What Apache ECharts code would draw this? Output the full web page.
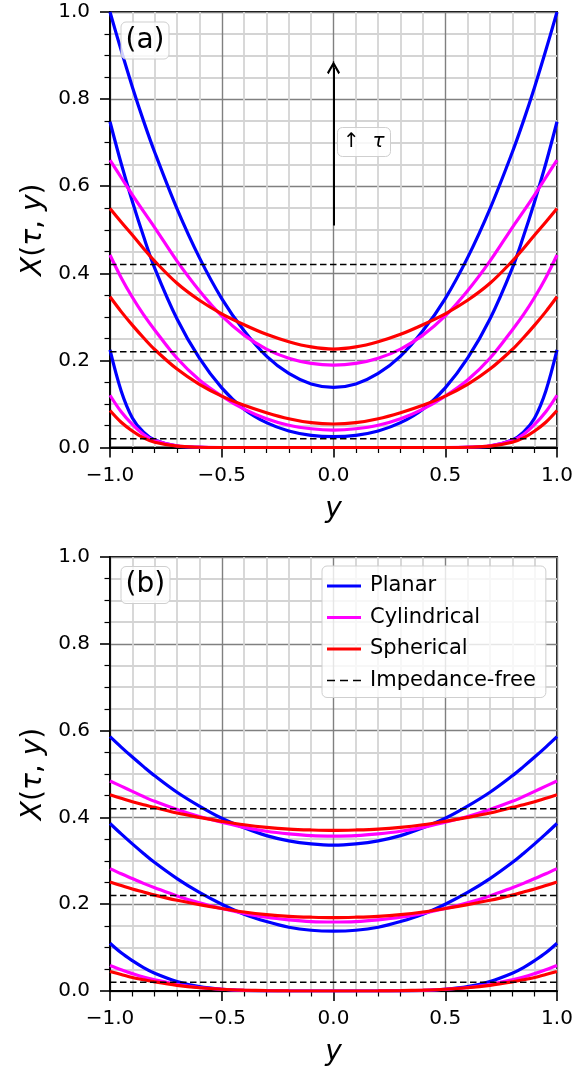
<!DOCTYPE html>
<html><head><meta charset="utf-8">
<script src="https://cdn.jsdelivr.net/npm/echarts/dist/echarts.min.js"></script>
<style>html,body{margin:0;padding:0;background:#fff}#c{width:576px;height:1076px}</style>
</head><body><div id="c"></div>
<script>
// y positions (abscissa) shared by every curve
const xs = [-1,-0.95,-0.9,-0.85,-0.8,-0.7,-0.6,-0.5,-0.4,-0.3,-0.2,-0.1,0,0.1,0.2,0.3,0.4,0.5,0.6,0.7,0.8,0.85,0.9,0.95,1];

// Panel (a): three times, smallest to largest
const aPlanar1 = [0.224,0.13,0.068,0.035,0.017,0.003,0.0004,0,0,0,0,0,0,0,0,0,0,0,0.0004,0.003,0.017,0.035,0.068,0.13,0.224];
const aCyl1    = [0.12,0.082,0.053,0.03,0.016,0.004,0.0008,0,0,0,0,0,0,0,0,0,0,0,0.0008,0.004,0.016,0.03,0.053,0.082,0.12];
const aSph1    = [0.085,0.058,0.038,0.022,0.012,0.003,0.0006,0,0,0,0,0,0,0,0,0,0,0,0.0006,0.003,0.012,0.022,0.038,0.058,0.085];
const aPlanar2 = [0.748,0.652,0.565,0.485,0.412,0.295,0.205,0.137,0.088,0.057,0.038,0.028,0.025,0.028,0.038,0.057,0.088,0.137,0.205,0.295,0.412,0.485,0.565,0.652,0.748];
const aCyl2    = [0.442,0.39,0.345,0.305,0.27,0.205,0.155,0.118,0.088,0.066,0.051,0.043,0.04,0.043,0.051,0.066,0.088,0.118,0.155,0.205,0.27,0.305,0.345,0.39,0.442];
const aSph2    = [0.346,0.312,0.281,0.252,0.225,0.18,0.145,0.118,0.097,0.08,0.066,0.057,0.054,0.057,0.066,0.08,0.097,0.118,0.145,0.18,0.225,0.252,0.281,0.312,0.346];
const aPlanar3 = [1.0,0.912,0.828,0.75,0.678,0.548,0.436,0.342,0.268,0.21,0.17,0.146,0.138,0.146,0.17,0.21,0.268,0.342,0.436,0.548,0.678,0.75,0.828,0.912,1.0];
const aCyl3    = [0.66,0.62,0.58,0.542,0.505,0.428,0.36,0.302,0.258,0.226,0.205,0.193,0.189,0.193,0.205,0.226,0.258,0.302,0.36,0.428,0.505,0.542,0.58,0.62,0.66];
const aSph3    = [0.549,0.518,0.488,0.457,0.428,0.377,0.338,0.307,0.282,0.26,0.243,0.231,0.226,0.231,0.243,0.26,0.282,0.307,0.338,0.377,0.428,0.457,0.488,0.518,0.549];

// Panel (b)
const bPlanar1 = [0.11,0.088,0.07,0.054,0.041,0.022,0.01,0.004,0.0012,0.0003,0,0,0,0,0,0.0003,0.0012,0.004,0.01,0.022,0.041,0.054,0.07,0.088,0.11];
const bCyl1    = [0.059,0.049,0.04,0.032,0.026,0.015,0.008,0.004,0.0015,0.0005,0.0001,0,0,0,0.0001,0.0005,0.0015,0.004,0.008,0.015,0.026,0.032,0.04,0.049,0.059];
const bSph1    = [0.045,0.038,0.031,0.026,0.021,0.013,0.0075,0.004,0.002,0.0008,0.0002,0,0,0,0.0002,0.0008,0.002,0.004,0.0075,0.013,0.021,0.026,0.031,0.038,0.045];
const bPlanar2 = [0.386,0.362,0.339,0.317,0.296,0.259,0.227,0.2,0.177,0.16,0.147,0.14,0.138,0.14,0.147,0.16,0.177,0.2,0.227,0.259,0.296,0.317,0.339,0.362,0.386];
const bCyl2    = [0.282,0.27,0.259,0.248,0.238,0.219,0.203,0.19,0.179,0.17,0.164,0.16,0.159,0.16,0.164,0.17,0.179,0.19,0.203,0.219,0.238,0.248,0.259,0.27,0.282];
const bSph2    = [0.251,0.243,0.235,0.228,0.221,0.209,0.199,0.19,0.182,0.176,0.172,0.17,0.169,0.17,0.172,0.176,0.182,0.19,0.199,0.209,0.221,0.228,0.235,0.243,0.251];
const bPlanar3 = [0.586,0.562,0.539,0.517,0.496,0.458,0.426,0.398,0.376,0.358,0.346,0.339,0.336,0.339,0.346,0.358,0.376,0.398,0.426,0.458,0.496,0.517,0.539,0.562,0.586];
const bCyl3    = [0.484,0.472,0.46,0.448,0.437,0.418,0.402,0.389,0.377,0.368,0.362,0.358,0.357,0.358,0.362,0.368,0.377,0.389,0.402,0.418,0.437,0.448,0.46,0.472,0.484];
const bSph3    = [0.452,0.444,0.436,0.429,0.423,0.41,0.4,0.391,0.383,0.377,0.373,0.371,0.37,0.371,0.373,0.377,0.383,0.391,0.4,0.41,0.423,0.429,0.436,0.444,0.452];

// Impedance-free levels (same in both panels)
const impedanceFree = [0.02, 0.22, 0.42];
const xRange = [-1, 1];

// Arrow in panel (a)
const arrowFrom = [0, 0.51];
const arrowTo = [0, 0.872];

// Tick labels
const xTicks = [-1, -0.5, 0, 0.5, 1];
const xTickLabels = ['\u22121.0', '\u22120.5', '0.0', '0.5', '1.0'];
const yTicks = [0, 0.2, 0.4, 0.6, 0.8, 1.0];
const yTickLabels = ['0.0', '0.2', '0.4', '0.6', '0.8', '1.0'];

const names = ['Planar', 'Cylindrical', 'Spherical', 'Impedance-free'];
const colors = { Planar: '#0000ff', Cylindrical: '#ff00ff', Spherical: '#ff0000' };

function lookup(ticks, labels) {
  return v => { const i = ticks.findIndex(t => Math.abs(t - v) < 1e-9); return i >= 0 ? labels[i] : ''; };
}
const FONT = 'DejaVu Sans';

function xAxisFor(g) {
  return {
    gridIndex: g, type: 'value', min: -1, max: 1, interval: 0.5,
    axisLine: { show: true, onZero: false, lineStyle: { color: '#000', width: 1.8 } },
    axisTick: { show: true, length: 10, lineStyle: { color: '#000', width: 1.6 } },
    minorTick: { show: true, splitNumber: 5, length: 5.5, lineStyle: { color: '#000', width: 1.2 } },
    splitLine: { show: true, lineStyle: { color: '#808080', width: 1.4 } },
    minorSplitLine: { show: true, lineStyle: { color: '#d4d4d4', width: 1.8 } },
    axisLabel: { formatter: lookup(xTicks, xTickLabels), fontSize: 20, color: '#000', fontFamily: FONT, margin: 18 },
    name: 'y', nameLocation: 'middle', nameGap: 48,
    nameTextStyle: { fontSize: 28, fontStyle: 'italic', fontFamily: FONT, color: '#000' }
  };
}
function yAxisFor(g) {
  return {
    gridIndex: g, type: 'value', min: 0, max: 1, interval: 0.2,
    axisLine: { show: true, onZero: false, lineStyle: { color: '#000', width: 1.8 } },
    axisTick: { show: true, length: 10, lineStyle: { color: '#000', width: 1.6 } },
    minorTick: { show: true, splitNumber: 4, length: 5.5, lineStyle: { color: '#000', width: 1.2 } },
    splitLine: { show: true, lineStyle: { color: '#808080', width: 1.4 } },
    minorSplitLine: { show: true, lineStyle: { color: '#d4d4d4', width: 1.8 } },
    axisLabel: { formatter: lookup(yTicks, yTickLabels), fontSize: 20, color: '#000', fontFamily: FONT, margin: 20 },
    name: '{i|X}({i|\u03c4}, {i|y})', nameLocation: 'middle', nameGap: 60, nameRotate: 90,
    nameTextStyle: { fontSize: 28, fontFamily: FONT, color: '#000',
      rich: { i: { fontSize: 28, fontStyle: 'italic', fontFamily: FONT, color: '#000' } } }
  };
}

function curve(name, arr, g) {
  return {
    type: 'line', name: name, xAxisIndex: g, yAxisIndex: g,
    data: xs.map((x, i) => [x, arr[i]]),
    smooth: 0.35, symbol: 'none', showSymbol: false,
    lineStyle: { color: colors[name], width: 3.2 }, itemStyle: { color: colors[name] },
    silent: true, z: 3
  };
}
function dashed(level, g) {
  return {
    type: 'line', name: 'Impedance-free', xAxisIndex: g, yAxisIndex: g,
    data: xRange.map(x => [x, level]), symbol: 'none', showSymbol: false,
    lineStyle: { color: '#000', width: 1.5, type: [6.5, 3.5] }, itemStyle: { color: '#000' },
    silent: true, z: 4
  };
}

const series = [];
[[aPlanar1, aCyl1, aSph1], [aPlanar2, aCyl2, aSph2], [aPlanar3, aCyl3, aSph3]].forEach(s => {
  series.push(curve('Planar', s[0], 0), curve('Cylindrical', s[1], 0), curve('Spherical', s[2], 0));
});
[[bPlanar1, bCyl1, bSph1], [bPlanar2, bCyl2, bSph2], [bPlanar3, bCyl3, bSph3]].forEach(s => {
  series.push(curve('Planar', s[0], 1), curve('Cylindrical', s[1], 1), curve('Spherical', s[2], 1));
});
impedanceFree.forEach(l => series.push(dashed(l, 0)));
impedanceFree.forEach(l => series.push(dashed(l, 1)));

// arrow
series.push({
  type: 'line', xAxisIndex: 0, yAxisIndex: 0, data: [], silent: true, z: 5,
  markLine: {
    silent: true, animation: false,
    symbol: ['none', 'path://M50,0 L100,82 L88,94 L50,30 L12,94 L0,82 Z M45,0 L55,0 L55,55 L45,55 Z'],
    symbolSize: [13, 13],
    lineStyle: { color: '#000', width: 2, type: 'solid' },
    label: { show: false }, emphasis: { disabled: true },
    data: [[{ coord: arrowFrom }, { coord: arrowTo }]]
  }
});

const boxStyle = { backgroundColor: 'rgba(255,255,255,0.8)', borderColor: '#cfcfcf', borderWidth: 1, borderRadius: 5 };
const solidIcon = 'path://M0,0 L34,0 L34,3 L0,3 Z';
const dashIcon = 'path://M0,0 L34,0 L34,0.01 L0,0.01 Z M0,0.8 L8,0.8 L8,2.2 L0,2.2 Z M13,0.8 L21,0.8 L21,2.2 L13,2.2 Z M26,0.8 L34,0.8 L34,2.2 L26,2.2 Z M0,2.99 L34,2.99 L34,3 L0,3 Z';

const option = {
  animation: false,
  backgroundColor: '#fff',
  grid: [
    { left: 110, top: 12, width: 447, height: 435.5, show: true, borderColor: '#000', borderWidth: 1.8, backgroundColor: 'transparent', containLabel: false, outerBoundsMode: 'none' },
    { left: 110, top: 557, width: 447, height: 434, show: true, borderColor: '#000', borderWidth: 1.8, backgroundColor: 'transparent', containLabel: false, outerBoundsMode: 'none' }
  ],
  xAxis: [xAxisFor(0), xAxisFor(1)],
  yAxis: [yAxisFor(0), yAxisFor(1)],
  title: [
    Object.assign({ text: '(a)', left: 120.5, top: 21.5, padding: [2, 5],
      textStyle: { fontSize: 28, fontWeight: 'normal', fontFamily: FONT, color: '#000', lineHeight: 34 } }, boxStyle),
    Object.assign({ text: '(b)', left: 120.5, top: 566, padding: [2, 5],
      textStyle: { fontSize: 28, fontWeight: 'normal', fontFamily: FONT, color: '#000', lineHeight: 34 } }, boxStyle),
    Object.assign({ text: '\u2191  {i|\u03c4}', left: 337, top: 127, padding: [3, 6],
      textStyle: { fontSize: 20, fontWeight: 'normal', fontFamily: FONT, color: '#000', lineHeight: 24,
        rich: { i: { fontSize: 20, fontStyle: 'italic', fontFamily: FONT, color: '#000' } } } }, boxStyle)
  ],
  legend: Object.assign({
    data: names.map((n, i) => ({ name: n, icon: i < 3 ? solidIcon : dashIcon })),
    left: 322, top: 566, orient: 'vertical',
    itemWidth: 34, itemHeight: 3, itemGap: 7.5, padding: [8, 10, 5, 5],
    textStyle: { fontSize: 21, fontFamily: FONT, color: '#000', lineHeight: 24, padding: [0, 0, 0, 4] },
    selectedMode: false
  }, boxStyle),
  series: series
};

const chart = echarts.init(document.getElementById('c'), null, { renderer: 'canvas' });
chart.setOption(option);
</script></body></html>
